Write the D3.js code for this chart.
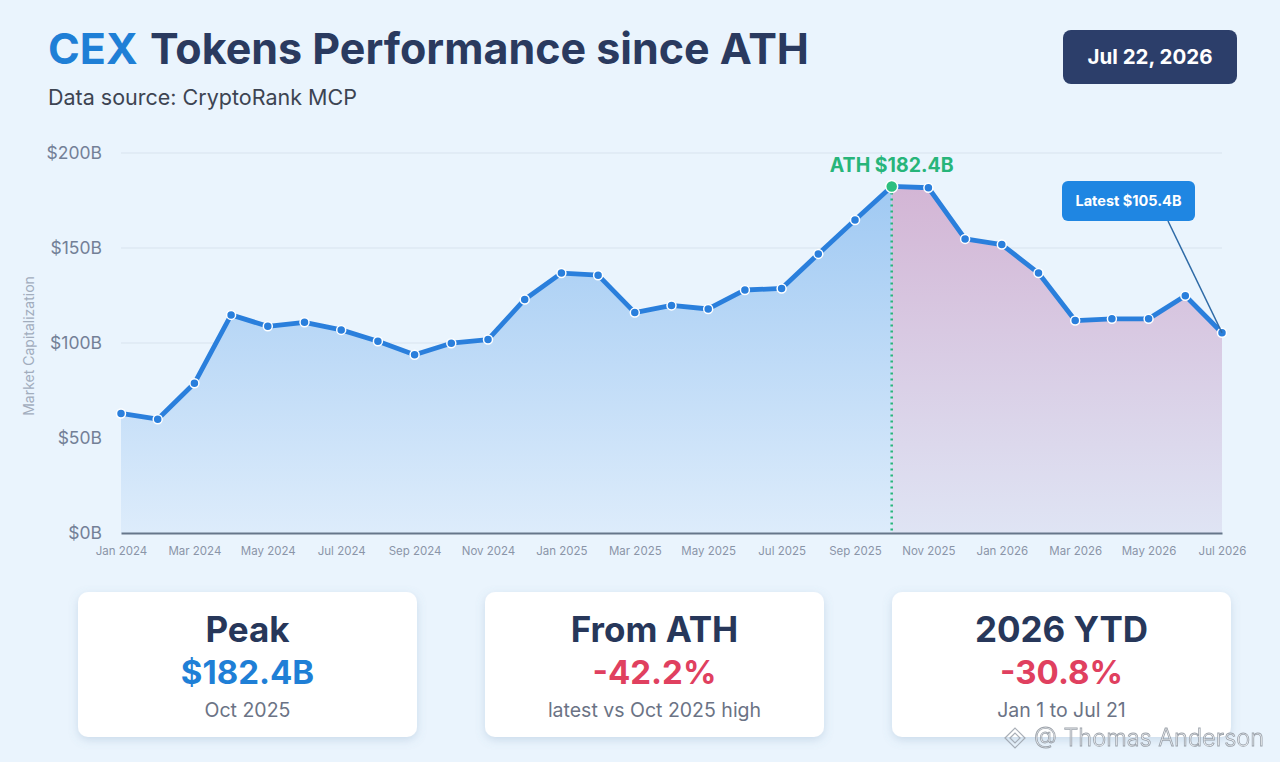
<!DOCTYPE html>
<html>
<head>
<meta charset="utf-8">
<script src="https://cdn.jsdelivr.net/npm/d3@7"></script>
<style>
  html, body { margin:0; padding:0; background:#eaf4fd; }
  svg { display:block; font-family: Inter, "Noto Sans", sans-serif; }
</style>
</head>
<body>
<svg id="chart" width="1280" height="762"></svg>
<script>
// monthly market cap, $B
const months = [
  '2024-01','2024-02','2024-03','2024-04','2024-05','2024-06','2024-07','2024-08','2024-09','2024-10','2024-11','2024-12',
  '2025-01','2025-02','2025-03','2025-04','2025-05','2025-06','2025-07','2025-08','2025-09','2025-10','2025-11','2025-12',
  '2026-01','2026-02','2026-03','2026-04','2026-05','2026-06','2026-07'
];
const values = [
  62.9, 59.9, 78.8, 114.8, 108.8, 110.9, 106.9, 100.9, 93.8, 99.9, 101.8, 122.9,
  136.8, 135.7, 116.0, 119.8, 117.9, 127.9, 128.7, 146.9, 164.7, 182.4, 181.7, 154.8,
  151.8, 136.8, 111.8, 112.7, 112.7, 124.9, 105.4
];
const yTicks = [0, 50, 100, 150, 200];
const xTickMonths = ['2024-01','2024-03','2024-05','2024-07','2024-09','2024-11',
  '2025-01','2025-03','2025-05','2025-07','2025-09','2025-11','2026-01','2026-03','2026-05','2026-07'];
const athMonth = '2025-10';

const cardTitles = ['Peak', 'From ATH', '2026 YTD'];
const cardValues = ['$182.4B', '-42.2%', '-30.8%'];
const cardNotes  = ['Oct 2025', 'latest vs Oct 2025 high', 'Jan 1 to Jul 21'];
const cardColors = ['#1f7fd6', '#e0405f', '#e0405f'];

const svg = d3.select('#chart');
const defs = svg.append('defs');

// gradients for the two area halves
const gBlue = defs.append('linearGradient').attr('id','gBlue')
  .attr('gradientUnits','userSpaceOnUse').attr('x1',0).attr('x2',0).attr('y1',153).attr('y2',533);
gBlue.append('stop').attr('offset','0').attr('stop-color','#9ac6f2');
gBlue.append('stop').attr('offset','1').attr('stop-color','#ddecfb');
const gPink = defs.append('linearGradient').attr('id','gPink')
  .attr('gradientUnits','userSpaceOnUse').attr('x1',0).attr('x2',0).attr('y1',153).attr('y2',533);
gPink.append('stop').attr('offset','0').attr('stop-color','#d2b1d2');
gPink.append('stop').attr('offset','1').attr('stop-color','#dfe4f4');

const shadow = defs.append('filter').attr('id','shadow')
  .attr('x','-10%').attr('y','-15%').attr('width','120%').attr('height','140%');
shadow.append('feDropShadow').attr('dx',0).attr('dy',3).attr('stdDeviation',5)
  .attr('flood-color','#6b8bb0').attr('flood-opacity',0.25);

// header
const title = svg.append('text').attr('x',48).attr('y',64)
  .attr('font-size',43).attr('font-weight',700);
title.append('tspan').attr('fill','#1f7fd6').text('CEX');
title.append('tspan').attr('fill','#2a3a5f').attr('dx',14).text('Tokens Performance since ATH');

svg.append('text').attr('x',48).attr('y',105).attr('font-size',21.5)
  .attr('fill','#3d4452').text('Data source: CryptoRank MCP');

svg.append('rect').attr('x',1063).attr('y',30).attr('width',174).attr('height',54)
  .attr('rx',8).attr('fill','#2c3e6a');
svg.append('text').attr('x',1150).attr('y',64).attr('text-anchor','middle')
  .attr('font-size',20.5).attr('font-weight',700).attr('fill','#ffffff').text('Jul 22, 2026');

// scales
const x = d3.scalePoint().domain(months).range([121, 1222]).padding(0);
const y = d3.scaleLinear().domain([0, 200]).range([533, 153]);

const data = months.map((m, i) => ({ m, v: values[i] }));
const athIdx = months.indexOf(athMonth);

// grid
svg.append('g').selectAll('line').data(yTicks.filter(t => t > 0)).join('line')
  .attr('x1', x.range()[0]).attr('x2', x.range()[1])
  .attr('y1', d => y(d)).attr('y2', d => y(d))
  .attr('stroke','#d8e3ee').attr('stroke-width',1);

svg.append('g').selectAll('text').data(yTicks).join('text')
  .attr('x',102).attr('y', d => y(d) + 6).attr('text-anchor','end')
  .attr('font-size',17.5).attr('fill','#738097')
  .text(d => '$' + d + 'B');

svg.append('text').attr('transform','translate(34,346) rotate(-90)')
  .attr('text-anchor','middle').attr('font-size',14).attr('fill','#a2adbd')
  .text('Market Capitalization');

// areas
const area = d3.area().x(d => x(d.m)).y0(y(0)).y1(d => y(d.v));
svg.append('path').datum(data.slice(0, athIdx + 1)).attr('d', area).attr('fill','url(#gBlue)');
svg.append('path').datum(data.slice(athIdx)).attr('d', area).attr('fill','url(#gPink)');

// x axis
const xAxis = svg.append('g').attr('transform', `translate(0,${y(0)})`)
  .call(d3.axisBottom(x).tickValues(xTickMonths).tickSize(0).tickPadding(14)
    .tickFormat(m => d3.timeFormat('%b %Y')(d3.timeParse('%Y-%m')(m))));
xAxis.select('.domain').attr('stroke','#66768a').attr('stroke-width',2);
xAxis.selectAll('text').attr('font-size',11.5).attr('fill','#8a95a8')
  .attr('font-family','Inter, "Noto Sans", sans-serif');

// ATH dotted line
svg.append('line').attr('x1', x(athMonth)).attr('x2', x(athMonth))
  .attr('y1', y(values[athIdx])).attr('y2', y(0))
  .attr('stroke','#27b57a').attr('stroke-width',2.5).attr('stroke-dasharray','2,4');

// line
const line = d3.line().x(d => x(d.m)).y(d => y(d.v));
svg.append('path').datum(data).attr('d', line).attr('fill','none')
  .attr('stroke','#2a7fdc').attr('stroke-width',4.8).attr('stroke-linejoin','round');

svg.append('g').selectAll('circle').data(data.filter((d, i) => i !== athIdx)).join('circle')
  .attr('cx', d => x(d.m)).attr('cy', d => y(d.v)).attr('r',4.5)
  .attr('fill','#2a7fdc').attr('stroke','#ffffff').attr('stroke-width',1.5);

svg.append('circle').attr('cx', x(athMonth)).attr('cy', y(values[athIdx])).attr('r',6)
  .attr('fill','#2dbf7f').attr('stroke','#ffffff').attr('stroke-width',1.5);
svg.append('text').attr('x', x(athMonth)).attr('y', y(values[athIdx]) - 14)
  .attr('text-anchor','middle').attr('font-size',19.5).attr('font-weight',700)
  .attr('fill','#27b57a').text('ATH $' + values[athIdx].toFixed(1) + 'B');

// latest callout
const last = data[data.length - 1];
svg.append('line').attr('x1',1168).attr('y1',221).attr('x2', x(last.m)).attr('y2', y(last.v))
  .attr('stroke','#2e6aa6').attr('stroke-width',1.5);
svg.append('rect').attr('x',1062).attr('y',181).attr('width',133).attr('height',40)
  .attr('rx',6).attr('fill','#1f86e2');
svg.append('text').attr('x',1128.5).attr('y',206).attr('text-anchor','middle')
  .attr('font-size',14.5).attr('font-weight',700).attr('fill','#ffffff')
  .text('Latest $' + last.v.toFixed(1) + 'B');

// stat cards
const cardX = d3.scalePoint().domain(d3.range(3)).range([78, 892]);
const cards = svg.append('g').selectAll('g').data(d3.range(3)).join('g')
  .attr('transform', i => `translate(${cardX(i)},592)`);
cards.append('rect').attr('width',339).attr('height',145).attr('rx',10)
  .attr('fill','#ffffff').attr('filter','url(#shadow)');
cards.append('text').attr('x',169.5).attr('y',50).attr('text-anchor','middle')
  .attr('font-size',35).attr('font-weight',700).attr('fill','#27375a')
  .text(i => cardTitles[i]);
cards.append('text').attr('x',169.5).attr('y',92).attr('text-anchor','middle')
  .attr('font-size',33).attr('font-weight',700).attr('fill', i => cardColors[i])
  .text(i => cardValues[i]);
cards.append('text').attr('x',169.5).attr('y',125).attr('text-anchor','middle')
  .attr('font-size',19.5).attr('fill','#6b7385')
  .text(i => cardNotes[i]);

// watermark
const wm = svg.append('g').attr('opacity',0.85);
wm.append('path').attr('d','M1005,738 l10,-10 l10,10 l-10,10 z M1010,738 l5,-5 l5,5 l-5,5 z')
  .attr('fill','none').attr('stroke','#9aa1aa').attr('stroke-width',1.2);
wm.append('text').attr('x',1034).attr('y',746).attr('font-size',23.5).attr('font-weight',300)
  .attr('fill','#f7f8fa').attr('stroke','#8d949d').attr('stroke-width',0.8)
  .text('@ Thomas Anderson');
</script>
</body>
</html>
